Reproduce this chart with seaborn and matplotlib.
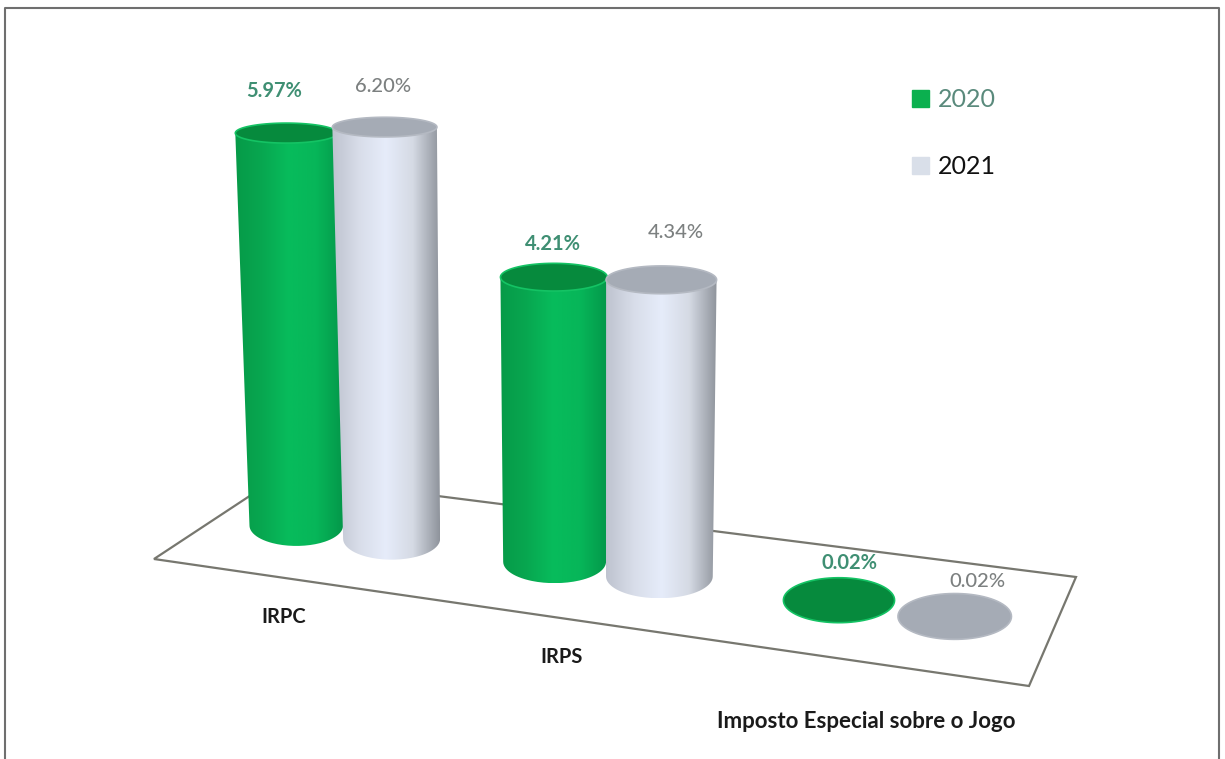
"""Barras em cilindro 3D: carga fiscal por imposto, 2020 vs 2021."""

import matplotlib
matplotlib.use("Agg")
import matplotlib.pyplot as plt
import numpy as np
import pandas as pd
import seaborn as sns
from matplotlib.colors import LinearSegmentedColormap
from matplotlib.patches import Patch, PathPatch, Polygon
from matplotlib.path import Path

CATEGORIAS = ["IRPC", "IRPS", "Imposto Especial sobre o Jogo"]
ANOS = ["2020", "2021"]
VALORES_2020 = [5.97, 4.21, 0.02]
VALORES_2021 = [6.20, 4.34, 0.02]

LARGURA, ALTURA = 1225, 759

# Cantos do chao em pixels: frente-esq, frente-dir, fundo-dir, fundo-esq.
CANTOS_CHAO = [(154, 559), (1029, 686), (1076, 577), (280, 476)]
FUGA_X, FUGA_K = 584.0, 8.8e-5

CORES_LEGENDA = {"2020": "#0BB04F", "2021": "#D9DFE9"}
CORES_TEXTO = {"2020": "#3F8F73", "2021": "#7C8080"}
CORES_CORPO = {
    "2020": ["#069A48", "#08A750", "#07BC5C", "#07B659", "#04984A"],
    "2021": ["#BEC3CF", "#D8DDE9", "#E6ECFA", "#D5DAE4", "#8F949C"],
}
CORES_TOPO = {"2020": ("#068A3D", "#14C364"), "2021": ("#A5ABB5", "#B4B9C2")}

# Deslocamento de cada rotulo de valor em relacao ao topo do cilindro.
DESVIO_ROTULOS = {
    "2020": [(-12, -42), (-1, -33), (11, -37)],
    "2021": [(-2, -41), (14, -47), (23, -35)],
}
POS_CATEGORIAS = [(284, 617), (562, 657), (866, 722)]
TAM_CATEGORIAS = [14.5, 14.5, 16]


def _homografia(origem, destino):
    linhas, termos = [], []
    for (u, v), (x, y) in zip(origem, destino):
        linhas.append([u, v, 1, 0, 0, 0, -u * x, -v * x])
        linhas.append([0, 0, 0, u, v, 1, -u * y, -v * y])
        termos += [x, y]
    return np.append(np.linalg.solve(linhas, termos), 1).reshape(3, 3)


def _projeta(h, u):
    # Os cilindros ficam a meio do chao, um pouco mais a frente a direita.
    x, y, w = h @ np.array([u, 0.5 - 0.012 * u, 1.0])
    return x / w, y / w


def _semi_menor(y):
    return 10 + 0.0267 * (y - 133)


def _px_por_ponto(x):
    return 65.7 + (x - 293) * 0.0072


def _elipse(cx, cy, a, b, ini=0.0, fim=2 * np.pi):
    t = np.linspace(ini, fim, 80)
    return np.column_stack([cx + a * np.cos(t), cy + b * np.sin(t)])


def _cilindro(ax, h, barra, ano, z):
    u = barra.get_x() + barra.get_width() / 2
    esq = _projeta(h, barra.get_x())
    dir_ = _projeta(h, barra.get_x() + barra.get_width())
    bx, by = _projeta(h, u)
    a = (dir_[0] - esq[0]) / 2 * (1 - max(bx - 700, 0) * 1.5e-4)
    alt = barra.get_height() * _px_por_ponto(bx)
    tx = bx + (bx - FUGA_X) * alt * FUGA_K
    ty = by - alt
    a_topo = a * (1 + alt * 1.2e-4 + max(FUGA_X - bx, 0) * 1.5e-4)
    b_base, b_topo = _semi_menor(by), _semi_menor(ty)

    # Corpo: lateral esquerda, arco de baixo e lateral direita.
    arco_base = _elipse(bx, by, a, b_base, np.pi, 0)
    arco_topo = _elipse(tx, ty, a_topo, b_topo, 0, -np.pi)
    contorno = np.vstack([arco_base, arco_topo])
    if alt > 5:
        cmap = LinearSegmentedColormap.from_list(f"c{ano}", CORES_CORPO[ano])
        x0, x1 = contorno[:, 0].min(), contorno[:, 0].max()
        y0, y1 = contorno[:, 1].min(), contorno[:, 1].max()
        img = ax.imshow(
            np.linspace(0, 1, 256).reshape(1, -1),
            cmap=cmap,
            extent=(x0, x1, y1, y0),
            aspect="auto",
            zorder=z,
        )
        recorte = PathPatch(
            Path(np.vstack([contorno, contorno[:1]])),
            transform=ax.transData,
            fill=False,
            lw=0,
        )
        ax.add_patch(recorte)
        img.set_clip_path(recorte)

    escuro, borda = CORES_TOPO[ano]
    ax.add_patch(
        Polygon(
            _elipse(tx, ty, a_topo, b_topo),
            closed=True,
            facecolor=escuro,
            edgecolor=borda,
            lw=1.2,
            zorder=z + 0.1,
        )
    )
    return tx, ty


def main():
    sns.set_theme(style="white")
    plt.rcParams["font.family"] = ["Lato", "DejaVu Sans"]

    df = pd.DataFrame(
        {
            "imposto": CATEGORIAS * 2,
            "ano": [ANOS[0]] * 3 + [ANOS[1]] * 3,
            "valor": VALORES_2020 + VALORES_2021,
        }
    )

    fig = plt.figure(figsize=(LARGURA / 100, ALTURA / 100), dpi=100)
    base = fig.add_axes([0, 0, 1, 1])
    sns.barplot(
        data=df,
        x="imposto",
        y="valor",
        hue="ano",
        palette=CORES_LEGENDA,
        width=0.76,
        gap=0,
        legend=False,
        ax=base,
    )
    u0, u1 = base.get_xlim()
    h = _homografia([(u0, 0), (u1, 0), (u1, 1), (u0, 1)], CANTOS_CHAO)
    base.set_visible(False)

    # Tela em pixels para desenhar a projecao.
    ax = fig.add_axes([0, 0, 1, 1])
    ax.set_autoscale_on(False)
    ax.set_xlim(0, LARGURA)
    ax.set_ylim(ALTURA, 0)
    ax.axis("off")

    ax.add_patch(
        Polygon(CANTOS_CHAO, closed=True, facecolor="white", edgecolor="#77776F", lw=1.6, zorder=1)
    )
    # Moldura aberta em baixo.
    ax.plot([5, 5, 1219, 1219], [ALTURA, 8, 8, ALTURA], color="#6F6F6F", lw=1.5, zorder=1)

    for i, (ano, barras) in enumerate(zip(ANOS, base.containers)):
        for j, barra in enumerate(barras):
            tx, ty = _cilindro(ax, h, barra, ano, 2 + i + 2 * (j == 2) * (1 - i))
            dx, dy = DESVIO_ROTULOS[ano][j]
            ax.text(
                tx + dx,
                ty + dy,
                f"{barra.get_height():.2f}%",
                ha="center",
                va="center",
                fontsize=14.5,
                fontweight="bold" if ano == "2020" else "medium",
                color=CORES_TEXTO[ano],
                zorder=6,
            )

    for nome, (x, y), tam in zip(CATEGORIAS, POS_CATEGORIAS, TAM_CATEGORIAS):
        ax.text(x, y, nome, ha="center", va="center", fontsize=tam, fontweight="bold", color="#1A1A1A")

    alcas = [Patch(color=CORES_LEGENDA[a], label=a) for a in ANOS]
    leg = ax.legend(
        handles=alcas,
        loc="upper left",
        bbox_to_anchor=(912 / LARGURA, 1 - 88 / ALTURA),
        frameon=False,
        fontsize=18,
        handlelength=0.68,
        handleheight=0.7,
        handletextpad=0.35,
        labelspacing=1.77,
        borderpad=0,
        borderaxespad=0,
    )
    for texto, cor in zip(leg.get_texts(), ["#5A8A7C", "#111111"]):
        texto.set_color(cor)

    fig.savefig("out.png", dpi=100, facecolor="white")
    plt.close(fig)


if __name__ == "__main__":
    main()
